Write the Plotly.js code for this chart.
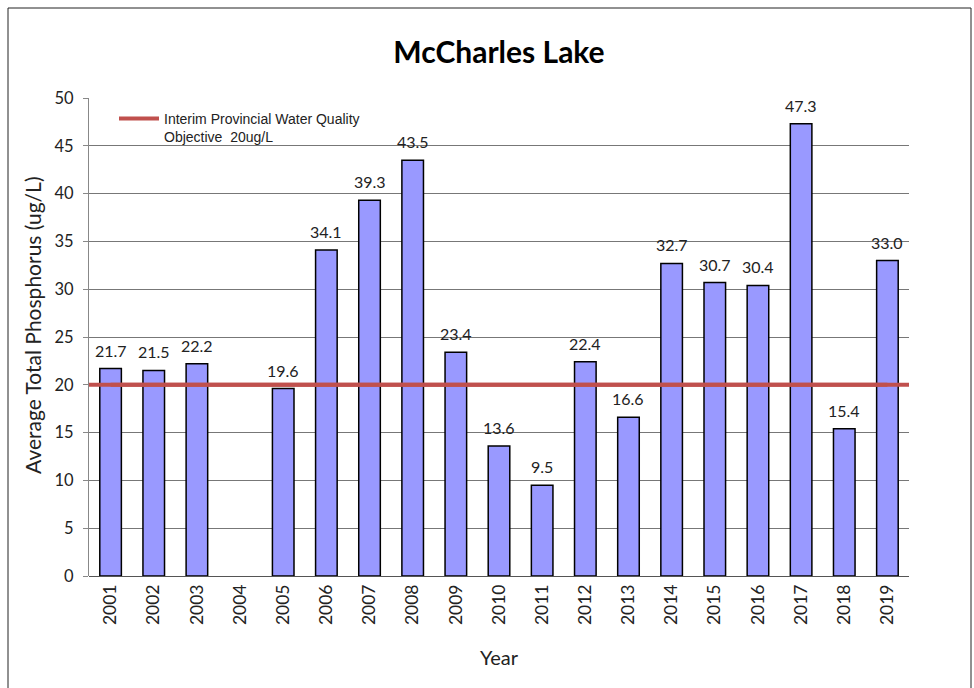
<!DOCTYPE html>
<html>
<head>
<meta charset="utf-8">
<script src="https://cdn.plot.ly/plotly-3.0.1.min.js"></script>
<style>html,body{margin:0;padding:0;background:#fff;}#chart{width:974px;height:688px;}</style>
</head>
<body>
<div id="chart"></div>
<script>
const years = ['2001','2002','2003','2004','2005','2006','2007','2008','2009','2010','2011','2012','2013','2014','2015','2016','2017','2018','2019'];
const phosphorus = [21.7, 21.5, 22.2, null, 19.6, 34.1, 39.3, 43.5, 23.4, 13.6, 9.5, 22.4, 16.6, 32.7, 30.7, 30.4, 47.3, 15.4, 33.0];
const objectiveValue = 20;
const objectiveLabel = 'Interim Provincial Water Quality<br>Objective  20ug/L';
const yTicks = [0, 5, 10, 15, 20, 25, 30, 35, 40, 45, 50];
const yTitle = 'Average Total Phosphorus (ug/L)';

const L = 89, R = 909, T = 98, B = 576;
const px = v => (v - L) / (R - L);
const py = v => (B - v) / (B - T);
const FONT = 'Lato, "Open Sans", sans-serif';

const bars = {
  type: 'bar',
  x: years,
  y: phosphorus,
  marker: {color: '#9999FF', line: {color: '#000000', width: 1.5}},
  showlegend: false,
  hoverinfo: 'x+y'
};
const objective = {
  type: 'scatter',
  mode: 'lines',
  x: years,
  y: years.map(() => objectiveValue),
  name: objectiveLabel,
  line: {color: '#C0504D', width: 4},
  showlegend: true,
  hoverinfo: 'skip'
};

// annotation x uses the category serial number (numeric-looking category names would be read as numbers)
const annotations = years.map((yr, i) => phosphorus[i] == null ? null : ({
  x: i, y: phosphorus[i], xref: 'x', yref: 'y',
  text: phosphorus[i].toFixed(1), showarrow: false,
  yanchor: 'bottom', yshift: 7,
  font: {family: FONT, size: 16, color: '#222'}
})).filter(a => a);
annotations.push({
  xref: 'paper', yref: 'paper', x: px(32), y: py(325), xanchor: 'center', yanchor: 'middle',
  text: yTitle, textangle: -90, showarrow: false,
  font: {family: FONT, size: 21, color: '#222'}
});

const layout = {
  width: 974, height: 688,
  margin: {l: L, r: 974 - R, t: T, b: 688 - B},
  paper_bgcolor: '#ffffff', plot_bgcolor: '#ffffff',
  title: {text: '<b>McCharles Lake</b>', x: 0.5 * (L + R) / 974, xanchor: 'center', y: 1 - 52 / 688, yanchor: 'middle',
          font: {family: FONT, size: 30, color: '#000'}},
  bargap: 0.5,
  xaxis: {
    type: 'category', categoryorder: 'array', categoryarray: years,
    range: [-0.5, years.length - 0.5],
    tickangle: -90, showgrid: false, zeroline: false,
    showline: false, ticks: '', ticklabelstandoff: 4,
    tickfont: {family: FONT, size: 17.5, color: '#222'},
    title: {text: 'Year', standoff: 26, font: {family: FONT, size: 20, color: '#222'}}
  },
  yaxis: {
    range: [0, 50], tickvals: yTicks, showgrid: true, gridcolor: '#777', gridwidth: 1,
    zeroline: true, zerolinecolor: '#555', zerolinewidth: 1,
    showline: true, linecolor: '#888', linewidth: 1,
    ticks: 'outside', ticklen: 5, tickcolor: '#888', ticklabelstandoff: 6,
    tickfont: {family: FONT, size: 16.5, color: '#222'}
  },
  legend: {
    x: px(114), y: py(103), xanchor: 'left', yanchor: 'top',
    bgcolor: 'rgba(0,0,0,0)', valign: 'top', tracegroupgap: 0, itemwidth: 40,
    font: {family: 'Liberation Sans, Arial, sans-serif', size: 14, color: '#222'}
  },
  shapes: [
    {type: 'line', xref: 'paper', yref: 'y', x0: 0, x1: 1, y0: objectiveValue, y1: objectiveValue,
     line: {color: '#C0504D', width: 4}},
    {type: 'rect', xref: 'paper', yref: 'paper', x0: px(8), x1: px(971), y0: py(8), y1: py(700),
     line: {color: '#222', width: 1}, fillcolor: 'rgba(0,0,0,0)', layer: 'below'}
  ],
  annotations: annotations
};

Plotly.newPlot('chart', [bars, objective], layout, {displayModeBar: false, staticPlot: true});
</script>
</body>
</html>
